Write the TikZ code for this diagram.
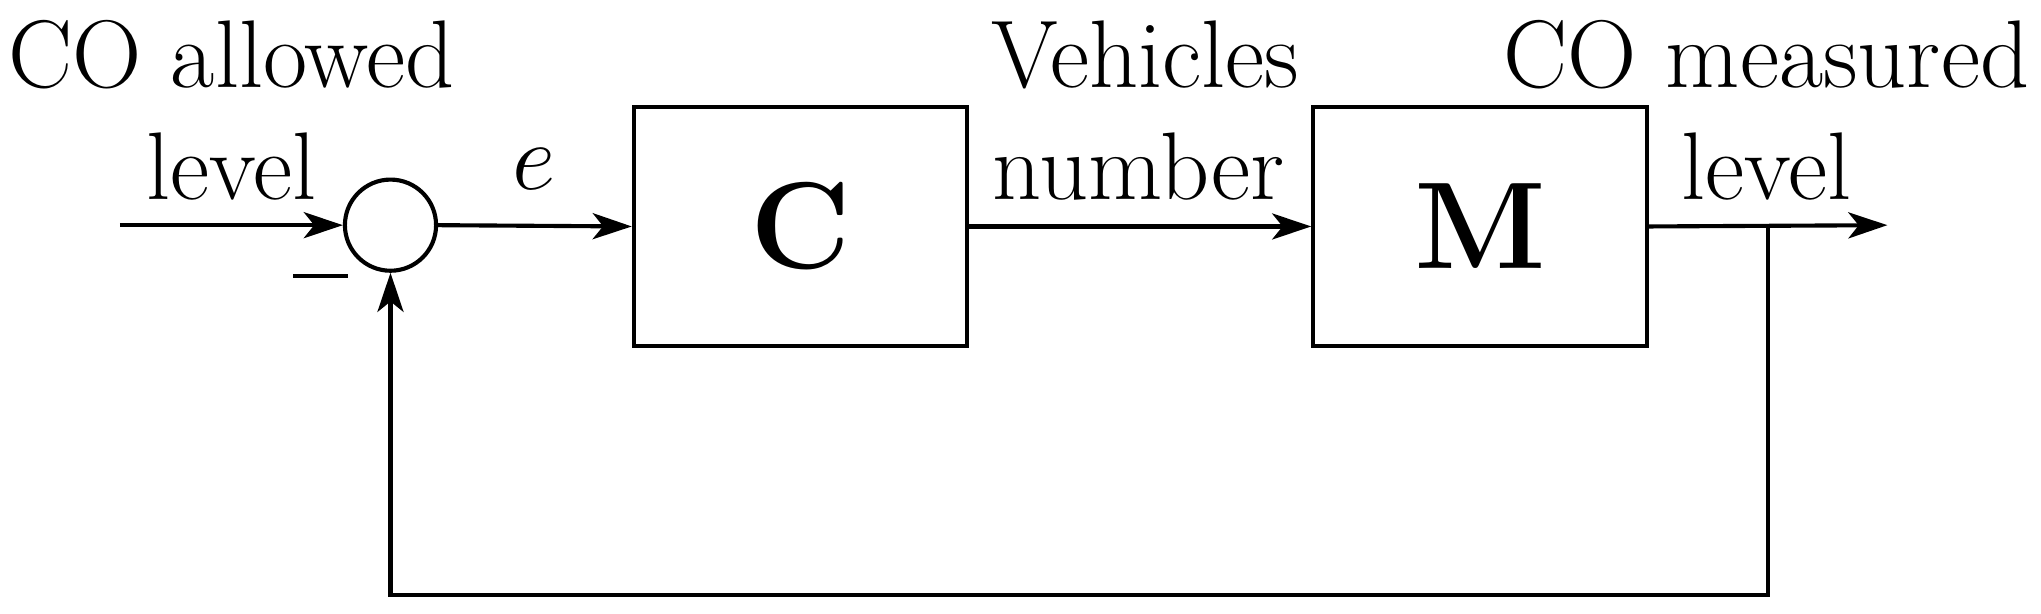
\documentclass[tikz,border=0pt]{standalone}
\usetikzlibrary{arrows.meta}
\begin{document}
\begin{tikzpicture}[x=0.01cm,y=-0.01cm,line width=0.9pt,
  lbl/.style={font=\fontsize{21}{25}\selectfont,inner sep=0pt},
  blk/.style={draw,minimum width=2.56cm,minimum height=1.84cm,font=\fontsize{27}{31}\selectfont\bfseries},
  arr/.style={-{Stealth[length=0.3cm,width=0.2cm,inset=0.08cm]}}]
\useasboundingbox (0,0) rectangle (1568,471);
\coordinate (in) at (92,173);
\node[draw,circle,minimum size=0.7cm,inner sep=0pt] (s) at (300,173) {};
\node[blk] (C) at (615,174) {C};
\node[blk] (M) at (1137,174) {M};
\coordinate (out) at (1450,173);
\coordinate (tap) at (1358,173);
\coordinate (br) at (1358,457);
\coordinate (bl) at (300,457);
\draw[arr] (in) -- (s.west);
\draw[arr] (s.east) -- (C.west);
\draw[arr] (C.east) -- (M.west);
\draw[arr] (M.east) -- (out);
\draw[arr] (tap) -- (br) -- (bl) -- (s.south);
\node[lbl] (t1) at (178,42) {CO allowed};
\node[lbl] (t2) at (178,128) {level};
\node[lbl] (t3) at (410,130) {$e$};
\node[lbl] (t4) at (880,42) {Vehicles};
\node[lbl] (t5) at (875,128) {number};
\node[lbl] (t6) at (1357,42) {CO measured};
\node[lbl] (t7) at (1357,128) {level};
\node[inner sep=0pt,minimum width=0.42cm,minimum height=0.03cm,fill=black] (t8) at (246,212) {};
\end{tikzpicture}
\end{document}
